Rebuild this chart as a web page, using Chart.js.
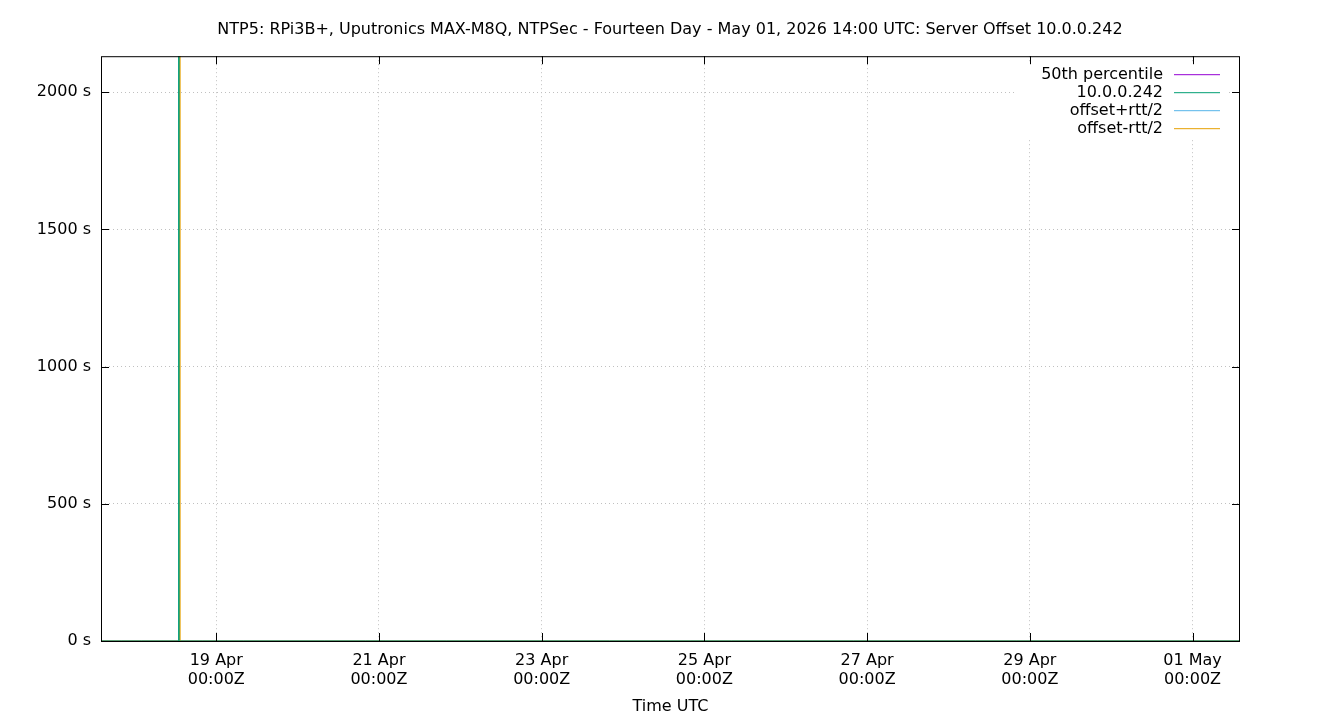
<!DOCTYPE html>
<html>
<head>
<meta charset="utf-8">
<title>NTP5 Server Offset 10.0.0.242</title>
<script src="https://cdn.jsdelivr.net/npm/chart.js@4/dist/chart.umd.min.js"></script>
<style>
  html, body { margin: 0; padding: 0; background: #ffffff; }
  #chart { display: block; }
</style>
</head>
<body>
<canvas id="chart" width="1340" height="720"></canvas>
<script>
const chartTitle = "NTP5: RPi3B+, Uputronics MAX-M8Q, NTPSec - Fourteen Day - May 01, 2026 14:00 UTC: Server Offset 10.0.0.242";

// x values are hours since 17 Apr 2026 14:00 UTC
const rangeHours = 336;

const xTickHours = [34, 82, 130, 178, 226, 274, 322];
const xTickLabels = [
  ["19 Apr", "00:00Z"], ["21 Apr", "00:00Z"], ["23 Apr", "00:00Z"],
  ["25 Apr", "00:00Z"], ["27 Apr", "00:00Z"], ["29 Apr", "00:00Z"],
  ["01 May", "00:00Z"]
];
const yTickValues = [0, 500, 1000, 1500, 2000];
const yMax = 2131;

const sampleHours = [0, 6, 12, 18, 22.9, 22.95, 23.0, 23.2, 23.25, 23.3, 30, 42, 54, 66, 78, 90, 102, 114, 126,
  138, 150, 162, 174, 186, 198, 210, 222, 234, 246, 258, 270, 282, 294, 306, 318, 330, 336];

const serverOffset = [0.000004, 0.000003, 0.000005, 0.000002, 0.000003, 3000, 0.000004, 0.000003, 0.000002, 0.000003,
  0.000004, 0.000003, 0.000005, 0.000002, 0.000004, 0.000003, 0.000002, 0.000004, 0.000005, 0.000003,
  0.000002, 0.000004, 0.000003, 0.000005, 0.000002, 0.000004, 0.000003, 0.000002, 0.000004, 0.000005,
  0.000003, 0.000002, 0.000004, 0.000003, 0.000005, 0.000002, 0.000004];
const offsetPlusRtt = [0.00041, 0.00039, 0.00042, 0.0004, 0.00041, 3000, 0.00042, 0.0004, 0.00041, 0.0004,
  0.00041, 0.00039, 0.00042, 0.0004, 0.00041, 0.00039, 0.0004, 0.00041, 0.00042, 0.00039,
  0.0004, 0.00041, 0.00039, 0.00042, 0.0004, 0.00041, 0.00039, 0.0004, 0.00041, 0.00042,
  0.00039, 0.0004, 0.00041, 0.00039, 0.00042, 0.0004, 0.00041];
const offsetMinusRtt = [-0.0004, -0.00038, -0.00041, -0.00039, -0.0004, -0.00039, -0.0004, -0.00041, 3000, -0.00039,
  -0.0004, -0.00038, -0.00041, -0.00039, -0.0004, -0.00038, -0.00039, -0.0004, -0.00041, -0.00038,
  -0.00039, -0.0004, -0.00038, -0.00041, -0.00039, -0.0004, -0.00038, -0.00039, -0.0004, -0.00041,
  -0.00038, -0.00039, -0.0004, -0.00038, -0.00041, -0.00039, -0.0004];
const percentileHours = [0, 336];
const percentile50 = [0.000003, 0.000003];

const seriesLabels = ["50th percentile", "10.0.0.242", "offset+rtt/2", "offset-rtt/2"];
const seriesColors = ["#9400d3", "#009e73", "#56b4e9", "#e69f00"];

const fontFamily = "'DejaVu Sans', sans-serif";

function toPoints(xs, ys) {
  return xs.map((x, i) => ({ x: x, y: ys[i] }));
}

const legendInside = {
  id: "legendInside",
  afterDatasetsDraw(chart) {
    const { ctx, chartArea } = chart;
    const right = chartArea.right;
    ctx.save();
    ctx.fillStyle = "#ffffff";
    ctx.fillRect(right - 226, chartArea.top + 7, 215, 75);
    ctx.font = "16px " + fontFamily;
    ctx.textAlign = "right";
    ctx.textBaseline = "middle";
    seriesLabels.forEach((label, i) => {
      const y = chartArea.top + 19 + i * 18;
      ctx.fillStyle = "#000000";
      ctx.fillText(label, right - 77, y);
      ctx.strokeStyle = seriesColors[i];
      ctx.lineWidth = 1;
      ctx.beginPath();
      ctx.moveTo(right - 66, y - 0.5);
      ctx.lineTo(right - 20, y - 0.5);
      ctx.stroke();
    });
    ctx.restore();
  }
};

const innerTicks = {
  id: "innerTicks",
  afterDraw(chart) {
    const { ctx, chartArea } = chart;
    const xs = chart.scales.x;
    const ys = chart.scales.y;
    ctx.save();
    ctx.strokeStyle = "#000000";
    ctx.lineWidth = 1;
    ctx.beginPath();
    xTickHours.forEach((h) => {
      const px = Math.round(xs.getPixelForValue(h)) + 0.5;
      ctx.moveTo(px, chartArea.bottom);
      ctx.lineTo(px, chartArea.bottom - 8);
      ctx.moveTo(px, chartArea.top);
      ctx.lineTo(px, chartArea.top + 8);
    });
    yTickValues.forEach((v) => {
      const py = Math.round(ys.getPixelForValue(v)) + 0.5;
      ctx.moveTo(chartArea.left, py);
      ctx.lineTo(chartArea.left + 8, py);
      ctx.moveTo(chartArea.right, py);
      ctx.lineTo(chartArea.right - 8, py);
    });
    ctx.stroke();
    ctx.strokeRect(chartArea.left + 0.5, chartArea.top + 0.5,
      chartArea.right - chartArea.left - 1, chartArea.bottom - chartArea.top);
    ctx.restore();
  }
};

Chart.defaults.font.family = fontFamily;
Chart.defaults.font.size = 16;
Chart.defaults.color = "#000000";

new Chart(document.getElementById("chart"), {
  type: "line",
  data: {
    datasets: [
      { label: seriesLabels[0], data: toPoints(percentileHours, percentile50), borderColor: seriesColors[0], order: 3 },
      { label: seriesLabels[1], data: toPoints(sampleHours, serverOffset), borderColor: seriesColors[1], order: 0 },
      { label: seriesLabels[2], data: toPoints(sampleHours, offsetPlusRtt), borderColor: seriesColors[2], order: 2 },
      { label: seriesLabels[3], data: toPoints(sampleHours, offsetMinusRtt), borderColor: seriesColors[3], order: 1 }
    ]
  },
  options: {
    responsive: false,
    animation: false,
    events: [],
    elements: {
      line: { borderWidth: 1, tension: 0 },
      point: { radius: 0 }
    },
    layout: { padding: 0 },
    plugins: {
      legend: { display: false },
      tooltip: { enabled: false },
      title: {
        display: true,
        text: chartTitle,
        font: { size: 16, weight: "normal" },
        padding: { top: 20, bottom: 17 }
      }
    },
    scales: {
      x: {
        type: "linear",
        min: 0,
        max: rangeHours,
        afterBuildTicks(scale) {
          scale.ticks = xTickHours.map((h) => ({ value: h }));
        },
        afterFit(scale) {
          scale.height = 79;
        },
        ticks: {
          autoSkip: false,
          maxRotation: 0,
          padding: 10,
          callback(value) {
            const i = xTickHours.indexOf(value);
            return i >= 0 ? xTickLabels[i] : "";
          }
        },
        grid: {
          drawTicks: false,
          color: "#c0c0c0",
          lineWidth: 1
        },
        border: { display: false, dash: [1, 3] },
        title: {
          display: true,
          text: "Time UTC",
          font: { size: 16 },
          padding: { top: 4, bottom: 4 }
        }
      },
      y: {
        type: "linear",
        min: 0,
        max: yMax,
        afterBuildTicks(scale) {
          scale.ticks = yTickValues.map((v) => ({ value: v }));
        },
        afterFit(scale) {
          scale.width = 101;
        },
        ticks: {
          padding: 10,
          callback(value) {
            return value + " s";
          }
        },
        grid: {
          drawTicks: false,
          color: "#c0c0c0",
          lineWidth: 1
        },
        border: { display: false, dash: [1, 3] }
      },
      // empty right-hand axis that only reserves the right margin
      yRight: {
        type: "linear",
        position: "right",
        min: 0,
        max: yMax,
        afterFit(scale) {
          scale.width = 100;
        },
        ticks: { display: false },
        grid: { display: false, drawTicks: false },
        border: { display: false }
      }
    }
  },
  plugins: [legendInside, innerTicks]
});
</script>
</body>
</html>
